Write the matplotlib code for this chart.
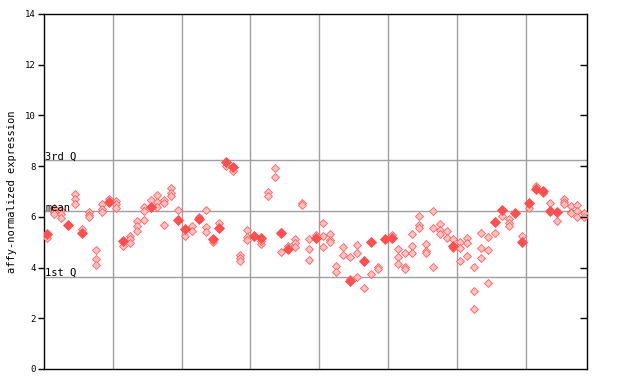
import matplotlib
matplotlib.use("Agg")
import matplotlib.pyplot as plt

# Column index -> values (solid markers)
solid_x = [0, 3, 5, 9, 11, 15, 19, 20, 22, 24, 25, 26, 27, 30, 31, 34, 35, 39,
           44, 46, 47, 49, 50, 59, 65, 66, 68, 69, 70, 71, 72, 73, 74]
solid_y = [5.34, 5.68, 5.38, 6.57, 5.06, 6.40, 5.89, 5.53, 5.92, 5.14, 5.57, 8.18, 7.98, 5.26, 5.15, 5.35, 4.72, 5.18,
           3.47, 4.26, 5.02, 5.14, 5.18, 4.86, 5.81, 6.28, 6.17, 5.02, 6.56, 7.11, 7.02, 6.23, 6.18]

# Column index -> values (hatched markers)
hatched = {
    0: [5.15], 1: [6.35, 6.2, 6.1], 2: [6.25, 6.1, 5.95], 4: [6.91, 6.71, 6.5],
    5: [5.51], 6: [6.19, 6.07, 5.98], 7: [4.69, 4.34, 4.09], 8: [6.5, 6.3, 6.2],
    9: [6.69], 10: [6.61, 6.5, 6.36], 11: [4.86], 12: [5.25, 5.11, 4.96],
    13: [5.85, 5.64, 5.43], 14: [6.4, 6.24, 5.88], 15: [6.66], 16: [6.86, 6.6, 6.4],
    17: [6.66, 6.56, 5.68], 18: [7.15, 6.95, 6.82], 19: [6.27], 20: [5.23],
    21: [5.64, 5.46], 22: [6.01], 23: [6.27, 5.61, 5.39], 24: [5.02], 25: [5.74],
    26: [8.01], 27: [7.82], 28: [4.5, 4.36, 4.25], 29: [5.48, 5.19, 5.09],
    31: [4.92, 5.05], 32: [6.99, 6.84], 33: [7.91, 7.56], 34: [5.42, 4.6],
    35: [4.86], 36: [5.11, 4.96, 4.82], 37: [6.53, 6.45], 38: [5.11, 4.72, 4.3],
    39: [5.28], 40: [5.74, 5.25, 4.82], 41: [5.31, 5.09, 5.0], 42: [4.06, 3.81],
    43: [4.8, 4.48], 44: [3.54, 4.4], 45: [4.88, 4.56, 3.63], 46: [3.18],
    47: [3.73], 48: [4.04, 3.93], 50: [5.28], 51: [4.72, 4.4, 4.13],
    52: [4.56, 4.01, 3.93], 53: [5.31, 4.84, 4.56], 54: [6.02, 5.68, 5.57],
    55: [4.92, 4.67, 4.56], 56: [6.22, 5.55, 4.01], 57: [5.71, 5.48, 5.31],
    58: [5.44, 5.15], 59: [5.11, 4.76], 60: [5.0, 4.76, 4.25],
    61: [5.15, 4.96, 4.44], 62: [4.01, 3.06, 2.35], 63: [5.35, 4.76, 4.36],
    64: [5.19, 4.68, 3.38], 65: [5.35], 66: [6.02], 67: [5.9, 5.77, 5.65],
    69: [5.23], 70: [6.34], 71: [7.22], 72: [6.93], 73: [6.53], 74: [5.84],
    75: [6.69, 6.6, 6.51], 76: [6.43, 6.2, 6.14], 77: [6.47, 6.23, 5.98],
    78: [6.14, 5.98],
}

q3_value = 8.23
mean_value = 6.22
q1_value = 3.63
yticks = [0, 2, 4, 6, 8, 10, 12, 14]
group_bounds = [9.5, 19.5, 29.5, 39.5, 49.5, 59.5, 69.5]

hx = [k for k, vs in hatched.items() for _ in vs]
hy = [v for vs in hatched.values() for v in vs]

fig = plt.figure(figsize=(6.4, 3.84), dpi=100)
ax = fig.add_axes([0.0692, 0.0391, 0.8485, 0.9245])

for gx in group_bounds:
    ax.axvline(gx, color="#a0a0a0", lw=1.0, zorder=1)
for v in (q3_value, mean_value, q1_value):
    ax.axhline(v, color="#a0a0a0", lw=1.0, zorder=1)

red = "#ff4f4f"
ax.plot(hx, hy, linestyle="none", marker="D", markersize=4.0,
        mfc="#ffc0c0", mec="#ff6060", mew=0.6, zorder=3)
ax.plot(solid_x, solid_y, linestyle="none", marker="D", markersize=4.6,
        mfc=red, mec=red, mew=0.6, zorder=4)

ax.set_xlim(-0.44, 78.44)
ax.set_ylim(0, 14)
ax.set_xticks([])
ax.set_yticks(yticks)
ax.set_yticklabels([str(t) for t in yticks], family="DejaVu Sans Mono", fontsize=6.5)
ax.tick_params(axis="y", direction="out", length=4, width=1, pad=2)

for s in ax.spines.values():
    s.set_linewidth(1.0)
    s.set_color("black")

# right-side inward ticks
ax2 = ax.twinx()
ax2.set_ylim(0, 14)
ax2.set_yticks([2, 4, 6, 8, 10, 12])
ax2.set_yticklabels([])
ax2.tick_params(axis="y", direction="in", length=5, width=1)
for s in ax2.spines.values():
    s.set_visible(False)

txt_kw = dict(family="DejaVu Sans Mono", fontsize=7.5, color="black",
              transform=ax.get_yaxis_transform(), ha="left", va="bottom", zorder=5)
ax.text(0.002, q3_value - 0.05, "3rd Q", **txt_kw)
ax.text(0.002, mean_value - 0.05, "mean", **txt_kw)
ax.text(0.002, q1_value - 0.05, "1st Q", **txt_kw)

ax.set_ylabel("affy-normalized expression", family="DejaVu Sans Mono", fontsize=7.5, labelpad=6)

fig.savefig("out.png", dpi=100)
